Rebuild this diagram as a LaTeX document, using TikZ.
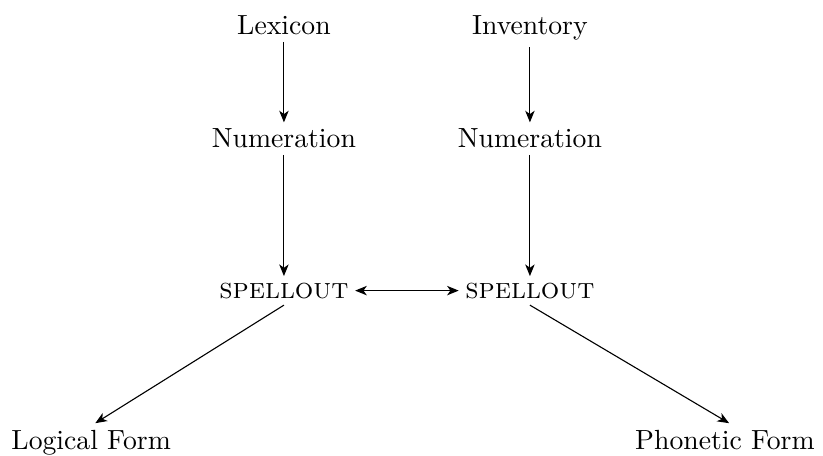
\documentclass[tikz,border=0pt]{standalone}
\usepackage{tikz}
\usetikzlibrary{calc,arrows.meta}
\tikzset{word/.style={anchor=base,inner sep=2.2pt},
         tip/.style={Stealth[length=4.2pt,width=3.4pt,inset=1.2pt]},
         line/.style={-{Stealth[length=4.2pt,width=3.4pt,inset=1.2pt]}},
         both/.style={{Stealth[length=4.2pt,width=3.4pt,inset=1.2pt]}-{Stealth[length=4.2pt,width=3.4pt,inset=1.2pt]}}
}
\begin{document}
\begin{tikzpicture}
  \useasboundingbox (0,0) rectangle (297.1pt,-164.6pt);
  \node[word] (lex) at (102.5pt,-12.6pt) {Lexicon};
  \node[word] (inv) at (191.3pt,-12.6pt) {Inventory};
  \node[word] (numl) at (102.5pt,-53.4pt) {Numeration};
  \node[word] (numr) at (191.3pt,-53.4pt) {Numeration};
  \node[word] (spl) at (102.5pt,-107.6pt) {\fontsize{10.5pt}{12pt}\selectfont\textsc{spellout}};
  \node[word] (spr) at (191.3pt,-107.6pt) {\fontsize{10.5pt}{12pt}\selectfont\textsc{spellout}};
  \node[word] (lf) at (32.9pt,-162.1pt) {Logical Form};
  \node[word] (pf) at (261.7pt,-162.1pt) {Phonetic Form};
  \draw[line] (lex) -- (numl);
  \draw[line] (inv) -- (numr);
  \draw[line] (numl) -- (spl);
  \draw[line] (numr) -- (spr);
  \draw[both] (spl) -- (spr);
  \draw[line] (spl.south) -- ($(lf.north)+(1.5pt,0)$);
  \draw[line] (spr.south) -- ($(pf.north)+(1.5pt,0)$);
\end{tikzpicture}
\end{document}
